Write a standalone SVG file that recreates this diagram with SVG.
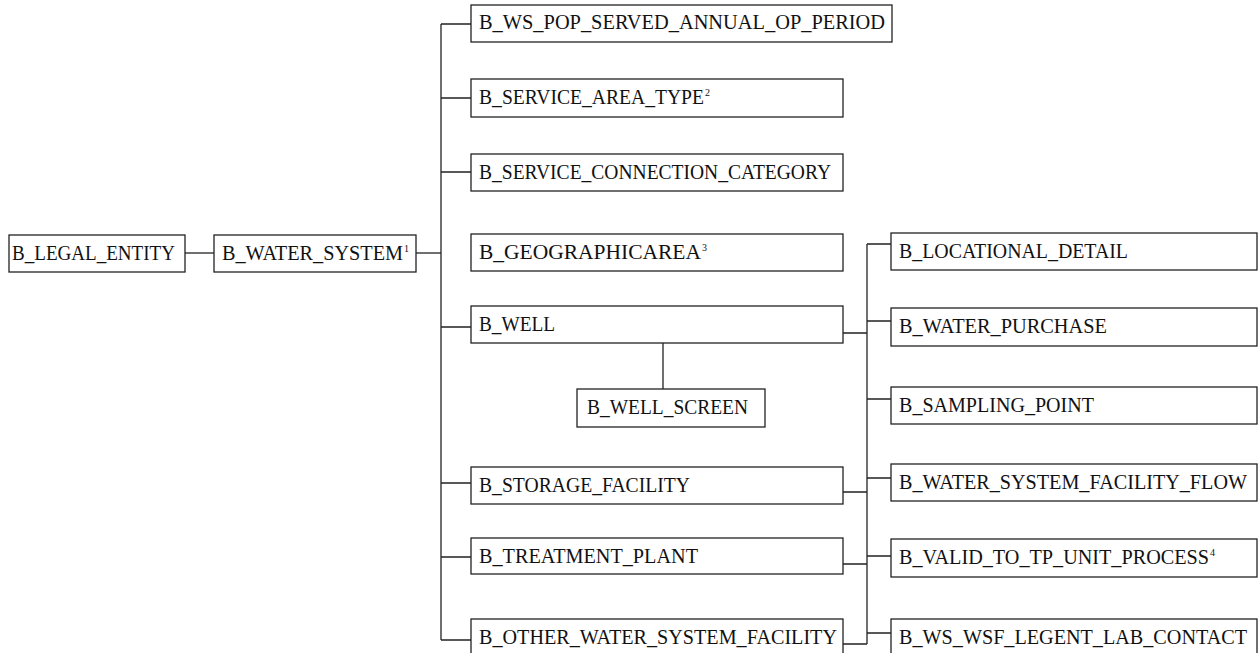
<svg xmlns="http://www.w3.org/2000/svg" width="1259" height="653" viewBox="0 0 1259 653">
<style>
.box{fill:#fff;stroke:#222;stroke-width:1.3}
.lbl{font-family:"Liberation Serif","Times New Roman",serif;font-size:21px;fill:#111}
.sup{font-size:10px}
.con{fill:none;stroke:#222;stroke-width:1.3}
</style>
<rect width="1259" height="653" fill="#fff"/>
<g id="connectors">
<path class="con" d="M185 253H214"/>
<path class="con" d="M416 253H441"/>
<path class="con" d="M441 24V640"/>
<path class="con" d="M441 24H471M441 98H471M441 172H471M441 327H471M441 483H471M441 557H471M441 640H471"/>
<path class="con" d="M663 343V389"/>
<path class="con" d="M867 244V644"/>
<path class="con" d="M843 333H867M843 492H867M843 564H867M843 644H867"/>
<path class="con" d="M867 244H891M867 321H891M867 399H891M867 478H891M867 556H891M867 633H891"/>
</g>
<g id="n-legal-entity"><rect class="box" x="9" y="235" width="176" height="37"/><text class="lbl" x="12" y="259.5" textLength="163" lengthAdjust="spacingAndGlyphs">B_LEGAL_ENTITY</text></g>
<g id="n-water-system"><rect class="box" x="214" y="235" width="202" height="37"/><text class="lbl" x="222" y="259.5" textLength="181" lengthAdjust="spacingAndGlyphs">B_WATER_SYSTEM</text><text class="lbl sup" x="404" y="251.5">1</text></g>
<g id="n-ws-pop"><rect class="box" x="471" y="5" width="421" height="37"/><text class="lbl" x="479" y="28.5" textLength="406" lengthAdjust="spacingAndGlyphs">B_WS_POP_SERVED_ANNUAL_OP_PERIOD</text></g>
<g id="n-service-area-type"><rect class="box" x="471" y="79" width="372" height="38"/><text class="lbl" x="479" y="104" textLength="225" lengthAdjust="spacingAndGlyphs">B_SERVICE_AREA_TYPE</text><text class="lbl sup" x="705" y="96">2</text></g>
<g id="n-service-connection-category"><rect class="box" x="471" y="154" width="372" height="37"/><text class="lbl" x="479" y="179" textLength="352" lengthAdjust="spacingAndGlyphs">B_SERVICE_CONNECTION_CATEGORY</text></g>
<g id="n-geographicarea"><rect class="box" x="471" y="234" width="372" height="37"/><text class="lbl" x="479" y="259" textLength="222" lengthAdjust="spacingAndGlyphs">B_GEOGRAPHICAREA</text><text class="lbl sup" x="702" y="251">3</text></g>
<g id="n-well"><rect class="box" x="471" y="306" width="372" height="37"/><text class="lbl" x="479" y="331" textLength="76" lengthAdjust="spacingAndGlyphs">B_WELL</text></g>
<g id="n-well-screen"><rect class="box" x="577" y="389" width="188" height="38"/><text class="lbl" x="587" y="414" textLength="161" lengthAdjust="spacingAndGlyphs">B_WELL_SCREEN</text></g>
<g id="n-storage-facility"><rect class="box" x="471" y="467" width="372" height="37"/><text class="lbl" x="479" y="492" textLength="211" lengthAdjust="spacingAndGlyphs">B_STORAGE_FACILITY</text></g>
<g id="n-treatment-plant"><rect class="box" x="471" y="538" width="372" height="36"/><text class="lbl" x="479" y="562.5" textLength="219" lengthAdjust="spacingAndGlyphs">B_TREATMENT_PLANT</text></g>
<g id="n-other-wsf"><rect class="box" x="471" y="619" width="372" height="40"/><text class="lbl" x="479" y="644" textLength="358" lengthAdjust="spacingAndGlyphs">B_OTHER_WATER_SYSTEM_FACILITY</text></g>
<g id="n-locational-detail"><rect class="box" x="891" y="233" width="366" height="37"/><text class="lbl" x="899" y="258" textLength="229" lengthAdjust="spacingAndGlyphs">B_LOCATIONAL_DETAIL</text></g>
<g id="n-water-purchase"><rect class="box" x="891" y="308" width="366" height="38"/><text class="lbl" x="899" y="333" textLength="208" lengthAdjust="spacingAndGlyphs">B_WATER_PURCHASE</text></g>
<g id="n-sampling-point"><rect class="box" x="891" y="387" width="366" height="37"/><text class="lbl" x="899" y="412" textLength="195" lengthAdjust="spacingAndGlyphs">B_SAMPLING_POINT</text></g>
<g id="n-wsf-flow"><rect class="box" x="891" y="464" width="366" height="37"/><text class="lbl" x="899" y="489" textLength="348" lengthAdjust="spacingAndGlyphs">B_WATER_SYSTEM_FACILITY_FLOW</text></g>
<g id="n-valid-tp"><rect class="box" x="891" y="539" width="366" height="38"/><text class="lbl" x="899" y="564" textLength="310" lengthAdjust="spacingAndGlyphs">B_VALID_TO_TP_UNIT_PROCESS</text><text class="lbl sup" x="1210" y="556">4</text></g>
<g id="n-legent-lab"><rect class="box" x="891" y="619" width="366" height="40"/><text class="lbl" x="899" y="644" textLength="348" lengthAdjust="spacingAndGlyphs">B_WS_WSF_LEGENT_LAB_CONTACT</text></g>
</svg>
